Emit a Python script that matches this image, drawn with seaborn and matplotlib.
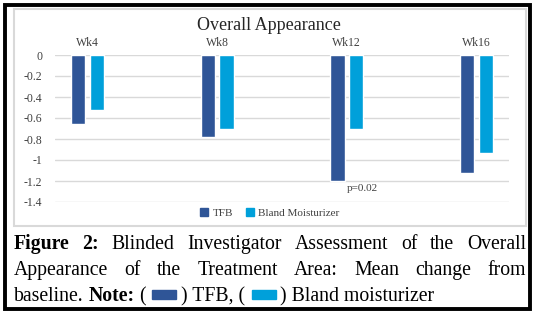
import matplotlib
matplotlib.use("Agg")
import matplotlib.pyplot as plt
from matplotlib.patches import Rectangle
import seaborn as sns
import pandas as pd

weeks = ["Wk4", "Wk8", "Wk12", "Wk16"]
tfb = [-0.66, -0.78, -1.20, -1.12]
bland = [-0.52, -0.70, -0.70, -0.93]
groups = ["TFB", "Bland Moisturizer"]
colors = ["#2F5597", "#00A0DA"]
yticks = [0, -0.2, -0.4, -0.6, -0.8, -1, -1.2, -1.4]
ytick_labels = ["0", "-0.2", "-0.4", "-0.6", "-0.8", "-1", "-1.2", "-1.4"]

df = pd.DataFrame({
    "week": weeks * 2,
    "value": tfb + bland,
    "group": [groups[0]] * 4 + [groups[1]] * 4,
})

sns.set_theme(style="white")
plt.rcParams["font.family"] = ["Liberation Serif", "DejaVu Serif"]

W, H = 538, 315
fig = plt.figure(figsize=(W / 100, H / 100), dpi=100)
fig.patch.set_facecolor("white")

def fx(px):
    return px / W

def fy(py):
    return 1 - py / H

ax = fig.add_axes([fx(55), fy(202), fx(509) - fx(55), fy(55) - fy(202)])
sns.barplot(data=df, x="week", y="value", hue="group", palette=colors,
            width=0.29, gap=0.25, ax=ax, legend=False, saturation=1)
ax.set_xlim(-0.25, 3.25)
ax.set_ylim(-1.4, 0)
ax.set_yticks(yticks)
ax.set_yticklabels(ytick_labels)
ax.set_xlabel("")
ax.set_ylabel("")
ax.xaxis.tick_top()
ax.tick_params(axis="both", length=0, labelsize=8.5, colors="#404040", pad=9)
ax.tick_params(axis="x", pad=4)
for s in ax.spines.values():
    s.set_visible(False)
ax.grid(axis="y", color="#d9d9d9", linewidth=1)
ax.set_axisbelow(True)

# p-value annotation under Wk12 TFB bar
ax.text(2.0, tfb[2] - 0.03, "p=0.02", fontsize=8, color="#404040",
        ha="left", va="top")

# Legend
handles = [Rectangle((0, 0), 1, 1, color=c) for c in colors]
fig.legend(handles, groups, loc="center", bbox_to_anchor=(fx(270), fy(213)),
           ncol=2, frameon=False, fontsize=8, handlelength=0.7, handleheight=0.7,
           handletextpad=0.4, columnspacing=1.2, borderaxespad=0,
           labelcolor="#404040")

# Title
fig.text(fx(269), fy(26), "Overall Appearance", ha="center", va="center",
         fontsize=13, color="#262626")

# Boxes
fig.patches.append(Rectangle((fx(14), fy(226)), fx(526) - fx(14), fy(9) - fy(226),
                             transform=fig.transFigure, fill=False,
                             edgecolor="#d9d9d9", linewidth=1.5))
fig.patches.append(Rectangle((fx(5), fy(309)), fx(530) - fx(5), fy(5) - fy(309),
                             transform=fig.transFigure, fill=False,
                             edgecolor="black", linewidth=2.8))

# Caption (justified)
renderer = fig.canvas.get_renderer()
cap_fs = 14.2
x0, x1 = 14, 526

def word_width(t, bold):
    tt = fig.text(0, 0, t, fontsize=cap_fs, fontweight="bold" if bold else "normal")
    bb = tt.get_window_extent(renderer=renderer)
    tt.remove()
    return bb.width

def justify(words, ybase):
    widths = [word_width(w, b) for w, b in words]
    gap = (x1 - x0 - sum(widths)) / (len(words) - 1)
    x = x0
    for (w, b), wd in zip(words, widths):
        fig.text(fx(x), fy(ybase), w, fontsize=cap_fs,
                 fontweight="bold" if b else "normal", color="black",
                 ha="left", va="baseline")
        x += wd + gap

line1 = [("Figure", True), ("2:", True), ("Blinded", False), ("Investigator", False),
         ("Assessment", False), ("of", False), ("the", False), ("Overall", False)]
line2 = [("Appearance", False), ("of", False), ("the", False), ("Treatment", False),
         ("Area:", False), ("Mean", False), ("change", False), ("from", False)]
justify(line1, 249)
justify(line2, 275)

# Line 3 with colored swatches
space = word_width("a a", False) - 2 * word_width("a", False)
x = x0
y3 = 301
parts = [("baseline.", False), (" ", False), ("Note:", True), (" (", False),
         ("SW0", False), (") TFB, (", False), ("SW1", False), (") Bland moisturizer", False)]
for t, b in parts:
    if t.startswith("SW"):
        c = colors[int(t[2])]
        x += 6
        fig.patches.append(Rectangle((fx(x), fy(y3 - 2)), fx(24), fy(0) - fy(9),
                                     transform=fig.transFigure, color=c))
        x += 24 + 5
        continue
    if t == " ":
        x += space
        continue
    tt = fig.text(fx(x), fy(y3), t, fontsize=cap_fs,
                  fontweight="bold" if b else "normal", color="black",
                  ha="left", va="baseline")
    x += tt.get_window_extent(renderer=renderer).width

fig.savefig("out.png", dpi=100)
